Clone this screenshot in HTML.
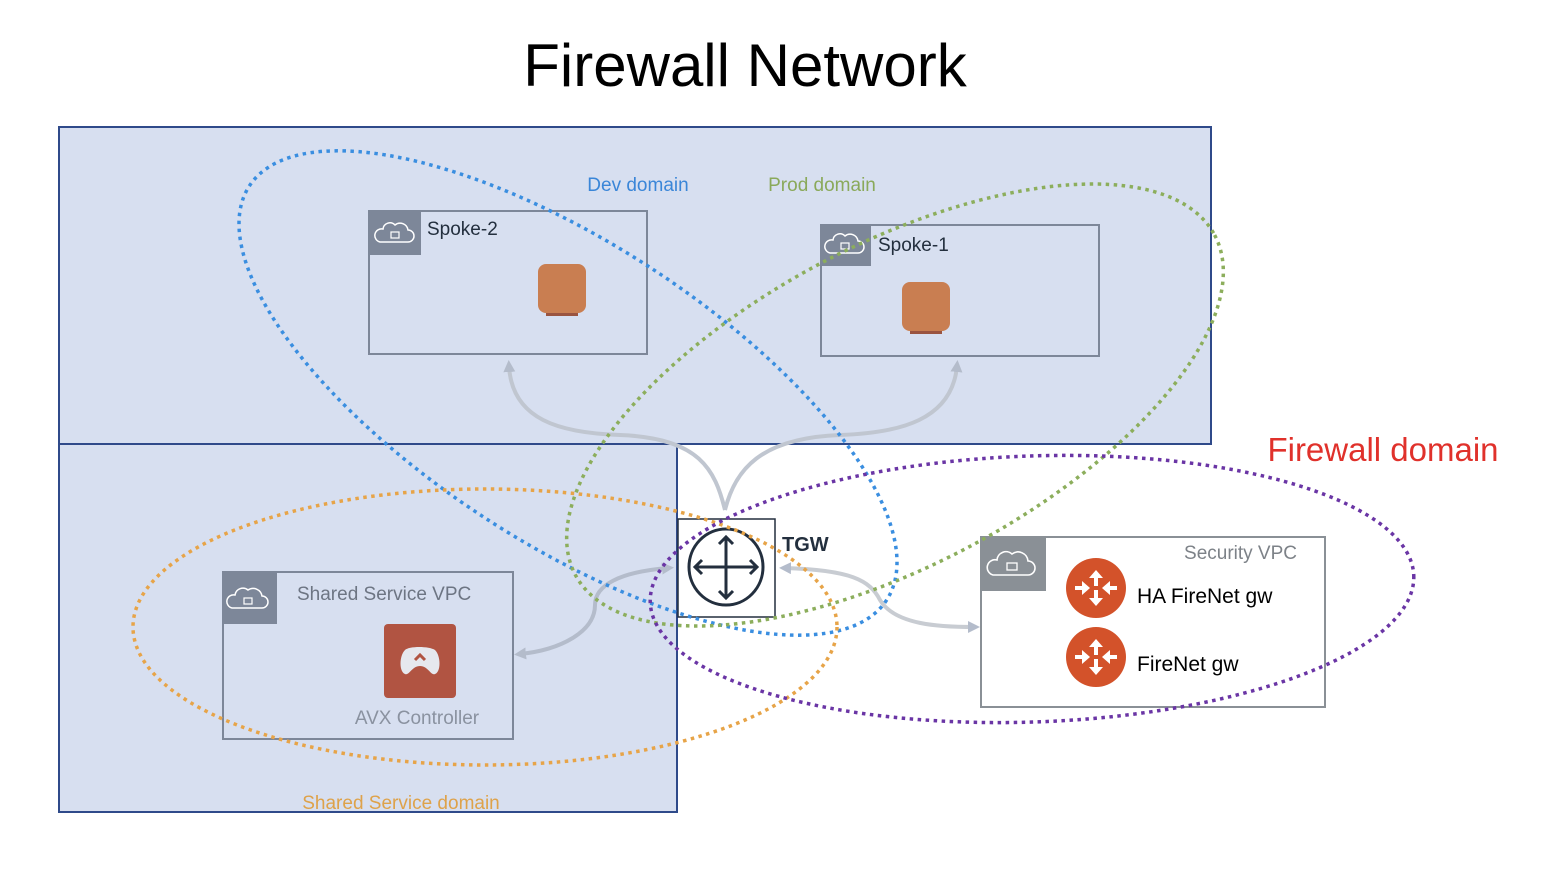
<!DOCTYPE html>
<html><head><meta charset="utf-8"><style>
html,body{margin:0;padding:0;background:#fff;}
svg{display:block;font-family:"Liberation Sans","DejaVu Sans",sans-serif;}
</style></head><body>
<svg width="1550" height="886" viewBox="0 0 1550 886" xmlns="http://www.w3.org/2000/svg">
<defs>
<marker id="ah2" markerWidth="12" markerHeight="12" refX="6" refY="6" orient="auto-start-reverse" markerUnits="userSpaceOnUse"><path d="M0,0 L12,6 L0,12 z" fill="#b4bccb"/></marker>
</defs>
<text x="745" y="86" font-size="60" text-anchor="middle" fill="#000">Firewall Network</text>
<rect x="59" y="127" width="1152" height="317" fill="#d7dff0" stroke="#2f4a8a" stroke-width="2"/>
<rect x="59" y="444" width="618" height="368" fill="#d7dff0" stroke="#2f4a8a" stroke-width="2"/>

<rect x="369" y="211" width="278" height="143" fill="none" stroke="#7d8799" stroke-width="2"/>
<rect x="369" y="211" width="52" height="44" fill="#7d8799"/>
<path d="M380,242 h28 a6,6 0 0 0 0,-12 a8,8 0 0 0 -13,-5 a7,7 0 0 0 -12,4 a6,6 0 0 0 -3,13z" fill="none" stroke="#fff" stroke-width="1.5"/>
<rect x="391" y="232" width="8" height="6" fill="none" stroke="#fff" stroke-width="1.2"/>
<text x="427" y="235" font-size="19" fill="#232f3e">Spoke-2</text>
<rect x="546" y="313" width="32" height="3" fill="#9a5440"/>
<rect x="538" y="264" width="48" height="49" rx="8" fill="#c97e51"/>

<rect x="821" y="225" width="278" height="131" fill="none" stroke="#7d8799" stroke-width="2"/>
<rect x="821" y="225" width="50" height="41" fill="#7d8799"/>
<path d="M830,253 h28 a6,6 0 0 0 0,-12 a8,8 0 0 0 -13,-5 a7,7 0 0 0 -12,4 a6,6 0 0 0 -3,13z" fill="none" stroke="#fff" stroke-width="1.5"/>
<rect x="841" y="243" width="8" height="6" fill="none" stroke="#fff" stroke-width="1.2"/>
<text x="878" y="251" font-size="19" fill="#232f3e">Spoke-1</text>
<rect x="910" y="331" width="32" height="3" fill="#9a5440"/>
<rect x="902" y="282" width="48" height="49" rx="8" fill="#c97e51"/>

<rect x="223" y="572" width="290" height="167" fill="none" stroke="#7d8799" stroke-width="2"/>
<rect x="223" y="572" width="54" height="52" fill="#7d8799"/>
<path d="M232,608 h30 a6,6 0 0 0 0,-12 a9,9 0 0 0 -14,-6 a8,8 0 0 0 -13,5 a6,6 0 0 0 -3,13z" fill="none" stroke="#fff" stroke-width="1.5"/>
<rect x="244" y="598" width="8" height="6" fill="none" stroke="#fff" stroke-width="1.2"/>
<text x="297" y="600" font-size="19" fill="#6d7583">Shared Service VPC</text>
<rect x="384" y="624" width="72" height="74" rx="4" fill="#b15442"/>
<path d="M405,674 c-6,-2 -6,-18 0,-24 c4,-4 24,-4 30,0 c6,6 6,22 0,24 c-4,2 -7,-8 -15,-8 c-8,0 -11,10 -15,8z" fill="#e6e8ee"/>
<path d="M415,660 l5,-5 l5,5" fill="none" stroke="#b15442" stroke-width="3"/>
<text x="417" y="724" font-size="19" fill="#8a92a0" text-anchor="middle">AVX Controller</text>

<rect x="981" y="537" width="344" height="170" fill="#fff" stroke="#8a9096" stroke-width="2"/>
<rect x="981" y="537" width="65" height="54" fill="#8a9096"/>
<path d="M993,575 h35 a7,7 0 0 0 0,-14 a10,10 0 0 0 -16,-7 a9,9 0 0 0 -15,6 a7,7 0 0 0 -4,15z" fill="none" stroke="#fff" stroke-width="1.6"/>
<rect x="1007" y="563" width="10" height="7" fill="none" stroke="#fff" stroke-width="1.3"/>
<text x="1297" y="559" font-size="19" fill="#7d8288" text-anchor="end">Security  VPC</text>
<g id="fn">
<circle cx="1096" cy="588" r="30" fill="#d3522a"/>
<g fill="#fff">
<path d="M1096,570 l-7,8 h5 v8 h4 v-8 h5z"/>
<path d="M1096,606 l-7,-8 h5 v-8 h4 v8 h5z"/>
<path d="M1090,588 l-8,-7 v5 h-7 v4 h7 v5z"/>
<path d="M1102,588 l8,-7 v5 h7 v4 h-7 v5z"/>
</g>
</g>
<use href="#fn" y="69"/>
<text x="1137" y="603" font-size="21" fill="#000">HA FireNet gw</text>
<text x="1137" y="671" font-size="21" fill="#000">FireNet gw</text>

<rect x="678" y="519" width="97" height="98" fill="#fff" stroke="#232f3e" stroke-width="1.5"/>
<ellipse cx="726" cy="567" rx="37" ry="38" fill="none" stroke="#232f3e" stroke-width="3"/>
<g stroke="#232f3e" stroke-width="3" fill="none">
<line x1="726" y1="537" x2="726" y2="598"/><line x1="695" y1="567" x2="757" y2="567"/>
<path d="M719,544 l7,-7 l7,7 M719,591 l7,7 l7,-7 M702,560 l-7,7 l7,7 M750,560 l7,7 l-7,7"/>
</g>
<text x="782" y="551" font-size="20" font-weight="bold" fill="#232f3e">TGW</text>

<g fill="none" stroke-width="4">
<path d="M725,510 C715,470 700,438 620,435 C560,433 512,420 509,366" stroke="#c0c6d0" marker-end="url(#ah2)"/>
<path d="M725,510 C735,470 760,438 840,435 C900,433 952,420 957,366" stroke="#c0c6d0" marker-end="url(#ah2)"/>
<path d="M668,568 C620,572 595,585 595,605 C595,632 560,650 520,654" stroke="#b4bccb" marker-start="url(#ah2)" marker-end="url(#ah2)"/>
<path d="M785,568 C850,570 870,580 880,600 C895,625 940,627 974,627" stroke="#c8ccd2" marker-start="url(#ah2)" marker-end="url(#ah2)"/>
</g>

<g fill="none" stroke-width="3.5" stroke-dasharray="3.5 4.5">
<ellipse cx="568" cy="393" rx="380" ry="150" transform="rotate(33 568 393)" stroke="#3a8ee0"/>
<ellipse cx="895" cy="405" rx="362" ry="160" transform="rotate(-28 895 405)" stroke="#8cae5c"/>
<ellipse cx="485" cy="627" rx="352" ry="138" stroke="#e7a448"/>
<ellipse cx="1032" cy="589" rx="382" ry="133" transform="rotate(-2 1032 589)" stroke="#6a35a5"/>
</g>

<text x="638" y="191" font-size="19" fill="#3a86d8" text-anchor="middle">Dev domain</text>
<text x="822" y="191" font-size="19" fill="#8aa95a" text-anchor="middle">Prod domain</text>
<text x="401" y="809" font-size="19" fill="#dea24a" text-anchor="middle">Shared Service domain</text>
<text x="1383" y="461" font-size="33" fill="#e0312b" text-anchor="middle">Firewall domain</text>
</svg>
</body></html>
